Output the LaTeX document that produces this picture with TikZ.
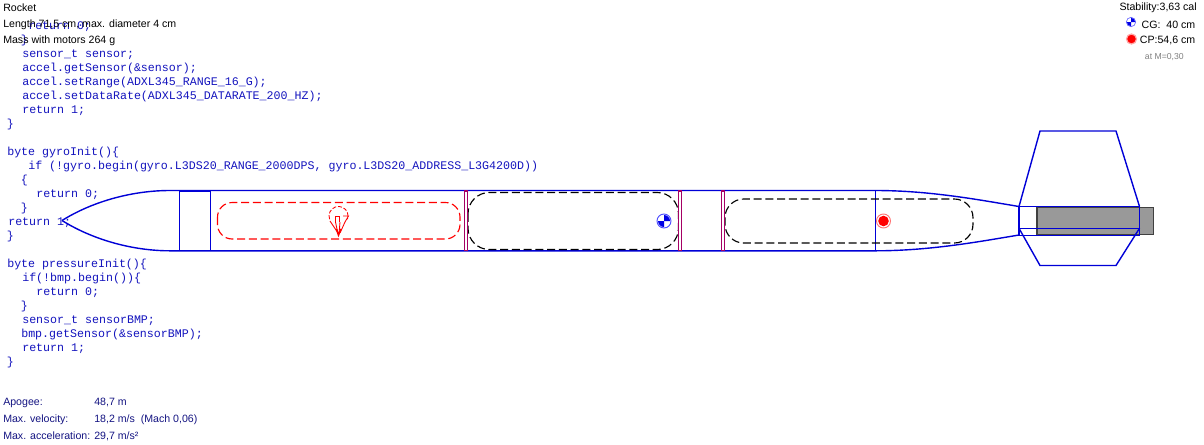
\documentclass[tikz,border=0pt]{standalone}
\usepackage{fontspec}
\setmainfont{Liberation Sans}
\setmonofont{Liberation Mono}
\usetikzlibrary{calc}
\definecolor{codeblue}{RGB}{20,20,190}
\definecolor{navytxt}{RGB}{20,20,130}
\definecolor{bulk}{RGB}{165,0,100}
\definecolor{body}{RGB}{0,0,215}
\tikzset{
 x=0.75pt,y=-0.75pt,
 code/.style={anchor=west,inner sep=0pt,text=codeblue,font=\ttfamily\fontsize{8.73}{10}\selectfont},
 label/.style={anchor=west,inner sep=0pt,text=black,font=\fontsize{7.95}{9}\selectfont},
 result/.style={anchor=west,inner sep=0pt,text=navytxt,font=\fontsize{7.95}{9}\selectfont},
 part/.style={draw=body,line width=1.05pt},
 bulkhead/.style={draw=bulk,line width=0.8pt,fill=white},
 chute/.style={draw=red,dash pattern=on 6pt off 2.8pt,line width=0.85pt,rounded corners=11pt},
 motortube/.style={draw=black,dash pattern=on 6pt off 2.8pt,line width=0.85pt,rounded corners=16pt},
}
\begin{document}
\begin{tikzpicture}
\useasboundingbox (0,0) rectangle (1204,444);
\fill[white] (0,0) rectangle (1204,444);
% code listing
\node[code] (c01) at (28,26.5) {return 0;};
\node[code] (c02) at (20.5,40.5) {\}};
\node[code] (c03) at (22,54.5) {sensor\_t sensor;};
\node[code] (c04) at (22,68.5) {accel.getSensor(\&sensor);};
\node[code] (c05) at (22,82.5) {accel.setRange(ADXL345\_RANGE\_16\_G);};
\node[code] (c06) at (22,96.5) {accel.setDataRate(ADXL345\_DATARATE\_200\_HZ);};
\node[code] (c07) at (22,110.5) {return 1;};
\node[code] (c08) at (6.5,124.5) {\}};
\node[code] (c09) at (7,152.5) {byte gyroInit()\{};
\node[code] (c10) at (28,166.5) {if (!gyro.begin(gyro.L3DS20\_RANGE\_2000DPS, gyro.L3DS20\_ADDRESS\_L3G4200D))};
\node[code] (c11) at (20.5,180.5) {\{};
\node[code] (c12) at (36,194.5) {return 0;};
\node[code] (c13) at (20.5,208.5) {\}};
\node[code] (c14) at (8,222.5) {return 1;};
\node[code] (c15) at (6.5,236.5) {\}};
\node[code] (c16) at (7,264.5) {byte pressureInit()\{};
\node[code] (c17) at (22,278.5) {if(!bmp.begin())\{};
\node[code] (c18) at (36,292.5) {return 0;};
\node[code] (c19) at (20.5,306.5) {\}};
\node[code] (c20) at (22,320.5) {sensor\_t sensorBMP;};
\node[code] (c21) at (21,334.5) {bmp.getSensor(\&sensorBMP);};
\node[code] (c22) at (22,348.5) {return 1;};
\node[code] (c23) at (6.5,362.5) {\}};
% rocket: nose and body
\draw[part] (62,220.5) .. controls (95,200) and (135,190.5) .. (170,190.5)
  -- (875.5,190.5) .. controls (930,190.5) and (980,200) .. (1019,206.5);
\draw[part] (62,220.5) .. controls (95,241) and (135,250.8) .. (170,250.8)
  -- (875.5,250.8) .. controls (930,250.8) and (980,241.5) .. (1019,235);
\draw[part] (179.5,190.8) rectangle (210.5,250.5);
\draw[part,line width=0.8pt] (875.5,190.5) -- (875.5,250.8);
% internal parts
\draw[chute] (217.5,202.5) rectangle (460,239);
\draw[motortube] (468,192.5) rectangle (678.5,249.5);
\draw[motortube,rounded corners=14pt] (725,199) rectangle (973,243);
\draw[bulkhead] (464.5,191) rectangle (467.5,250.5);
\draw[bulkhead] (678.5,191) rectangle (681.5,250.5);
\draw[bulkhead] (721.5,191) rectangle (724.5,250.5);
% parachute symbol
\begin{scope}[draw=red,line width=0.65pt]
\draw[dash pattern=on 3pt off 1.4pt] (329.6,219.2) arc (160:380:9.5);
\draw (335,222) -- (335,216) -- (339,216) -- (339,222);
\draw (343,216) -- (348.5,216) -- (345,222);
\draw (330,221) -- (338,233) (335.5,222) -- (338,234) (340,222) -- (339,234) (345,222) -- (340,233);
\draw[line width=1.2pt] (336.5,229) -- (338.5,235) -- (341,229);
\end{scope}
% motor and fins
\draw[draw=black!75,line width=0.9pt,fill=black!40] (1037,207.3) rectangle (1153.5,234.7);
\draw[part] (1019,206.5) -- (1139.5,206.5) -- (1139.5,235.3) -- (1019,235.3) -- cycle;
\draw[part,line width=1.5pt] (1019,206.5) -- (1019,235.3);
\draw[part] (1019,206.5) -- (1040,131) -- (1116,131) -- (1139.5,206.5);
\draw[part] (1019,228.3) -- (1139.5,228.3);
\draw[part] (1019,228.3) -- (1040,265.5) -- (1116,265.5) -- (1139.5,228.3);
% CG and CP on the rocket
\node[circle,draw=blue!70!white,line width=0.7pt,fill=white,minimum size=10.5pt,inner sep=0pt] (cg) at (664,221) {};
\fill[blue!90!black] (cg.center) -- ++(6,0) arc (0:-90:6) -- cycle;
\fill[blue!90!black] (cg.center) -- ++(-6,0) arc (180:90:6) -- cycle;
\node[circle,draw=red!55!white,line width=0.7pt,fill=white,minimum size=10.5pt,inner sep=0pt] (cp) at (883.5,221) {};
\fill[red] (cp.center) circle (5.3);
% header
\node[label] (title) at (3,7.5) {Rocket};
\node[label] (length) at (3,24.5) {Length 71,5 cm, max. diameter 4 cm};
\node[label] (mass) at (3,40.5) {Mass with motors 264 g};
% stability
\node[label,anchor=east] (stab) at (1197,7.5) {Stability:3,63 cal};
\node[label,anchor=east] (cgt) at (1195.5,24.5) {CG:\ \ 40 cm};
\node[label,anchor=east] (cpt) at (1195.5,40.5) {CP:54,6 cm};
\node[label,anchor=east,text=black!50,font=\fontsize{6.5}{8}\selectfont] (mach) at (1184,57) {at M=0,30};
\node[circle,draw=blue!60!white,line width=0.5pt,fill=white,minimum size=7pt,inner sep=0pt] (cgk) at (1131,22) {};
\fill[blue!90!black] (cgk.center) -- ++(4.2,0) arc (0:-90:4.2) -- cycle;
\fill[blue!90!black] (cgk.center) -- ++(-4.2,0) arc (180:90:4.2) -- cycle;
\node[circle,fill=red,draw=red!35,line width=0.9pt,minimum size=7.5pt,inner sep=0pt] (cpk) at (1131.5,39) {};
% results
\node[result] (r1) at (3,402.5) {Apogee:};
\node[result] (r1v) at (94,402.5) {48,7 m};
\node[result] (r2) at (3,419.5) {Max. velocity:};
\node[result] (r2v) at (94,419.5) {18,2 m/s\ \ (Mach 0,06)};
\node[result] (r3) at (3,436) {Max. acceleration:};
\node[result] (r3v) at (94,436) {29,7 m/s²};
\end{tikzpicture}
\end{document}
